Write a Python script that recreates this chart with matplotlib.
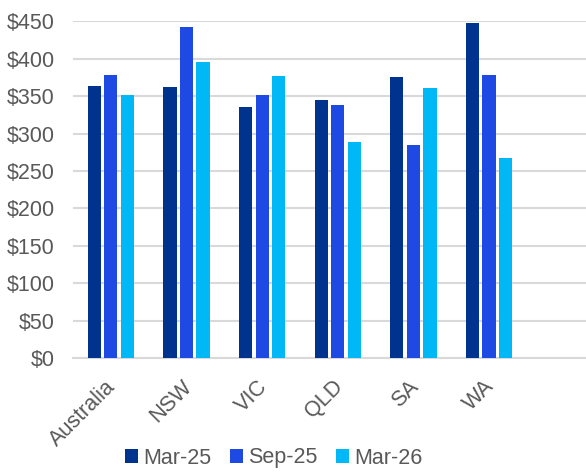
import numpy as np
import matplotlib.pyplot as plt
from matplotlib.ticker import FuncFormatter
from matplotlib.transforms import ScaledTranslation

plt.rcParams['font.family'] = ['Liberation Sans', 'DejaVu Sans']

# Chart data
regions = ['Australia', 'NSW', 'VIC', 'QLD', 'SA', 'WA']
periods = ['Mar-25', 'Sep-25', 'Mar-26']
mar_25 = [364, 362, 336, 345, 376, 448]
sep_25 = [378, 443, 352, 338, 285, 379]
mar_26 = [352, 396, 377, 289, 361, 267]
colors = ['#00338D', '#1E49E2', '#00B8F5']

fig = plt.figure(figsize=(5.86, 4.72), dpi=100)
ax = fig.add_axes([73 / 586, 1 - 358 / 472, 1 - 73 / 586, (358 - 21.5) / 472])

x = np.arange(len(regions))
width = 0.176
step = 0.22
for i, (vals, label) in enumerate(zip([mar_25, sep_25, mar_26], periods)):
    ax.bar(x + (i - 1) * step, vals, width, color=colors[i], label=label, zorder=3)

# Axes styling
ax.set_ylim(0, 450)
ax.set_yticks(np.arange(0, 451, 50))
ax.yaxis.set_major_formatter(FuncFormatter(lambda v, p: f'${v:.0f}'))
ax.set_xlim(-0.5, 6.28)
ax.set_xticks(x)
ax.set_xticklabels(regions, rotation=45, ha='right', rotation_mode='anchor')

ax.grid(axis='y', color='#D9D9D9', linewidth=1.5, zorder=0)
for s in ['top', 'right', 'left']:
    ax.spines[s].set_visible(False)
ax.spines['bottom'].set_color('#D9D9D9')
ax.spines['bottom'].set_linewidth(1.5)
ax.tick_params(axis='both', length=0, labelsize=15.5, labelcolor='#595959')
ax.tick_params(axis='y', pad=13)
ax.tick_params(axis='x', pad=13)

# nudge the rotated category labels a little to the left
shift = ScaledTranslation(-4 / 72, 0, fig.dpi_scale_trans)
for lbl in ax.get_xticklabels():
    lbl.set_transform(lbl.get_transform() + shift)

# Legend below the chart
fig.legend(loc='center', bbox_to_anchor=(274 / 586, 1 - 458 / 472), ncol=3,
           frameon=False, fontsize=15.5, labelcolor='#595959',
           handlelength=0.6, handleheight=0.6, handletextpad=0.25, columnspacing=0.85)

plt.savefig('out.png', dpi=100)
